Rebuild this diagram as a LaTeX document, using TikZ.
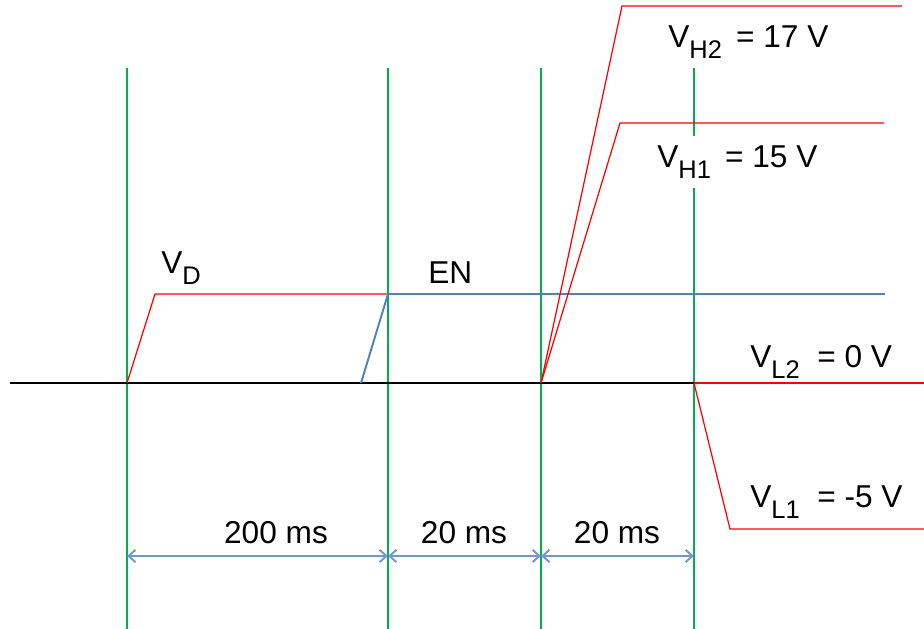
\documentclass[tikz,border=0pt]{standalone}
\usepackage{fontspec}
\setmainfont{Liberation Sans}
\usetikzlibrary{arrows.meta}
\definecolor{markgreen}{HTML}{00B050}
\definecolor{sigred}{HTML}{FF0000}
\definecolor{sigblue}{HTML}{4F81BD}
\definecolor{dimblue}{HTML}{7396CE}
\newcommand{\lowidx}[1]{\raisebox{-6.8pt}{\fontsize{14.5}{16}\selectfont #1}}

\begin{document}
\begin{tikzpicture}[x=0.02cm, y=-0.02cm, font=\fontsize{18}{21}\selectfont,
    markline/.style={markgreen, line width=1.6pt},
    redsig/.style={sigred, line width=0.7pt},
    lbl/.style={anchor=base west, inner sep=0pt},
    dimarrow/.style={dimblue, line width=1.1pt,
      {Straight Barb[length=4pt, width=7pt]}-{Straight Barb[length=4pt, width=7pt]}}]
    \useasboundingbox (0,0) rectangle (924,629);
    % time markers
    \foreach \name/\x in {t0/127, t1/388, t2/541, t3/694} {
      \coordinate (\name top) at (\x,68);
      \coordinate (\name bot) at (\x,629);
      \coordinate (\name dim) at (\x,556);
      \coordinate (\name base) at (\x,383);
    }
    \foreach \name in {t0,t1,t2,t3} \draw[markline] (\name top) -- (\name bot);
    % ground line
    \draw[black, line width=1.5pt] (10,383) -- (767,383);
    % VD and EN
    \draw[redsig] (t0base) -- (155,294) -- (t1base |- 0,294);
    \draw[sigblue, line width=1.1pt] (361,383) -- (388,294) -- (885,294);
    % high levels
    \draw[redsig] (t2base) -- (622,6) -- (902,6);
    \draw[redsig] (t2base) -- (620,123) -- (884,123);
    % low levels
    \draw[redsig] (t3base) -- (924,383);
    \draw[redsig] (t3base) -- (730,529) -- (924,529);
    % labels
    \node[lbl] (vd) at (161,273) {V\lowidx{D}};
    \node[lbl] (en) at (428,283) {EN};
    \node[lbl] (vh2) at (668,47) {V\lowidx{H2}\hspace{3pt} = 17 V};
    \node[lbl, fill=white, inner ysep=5pt, inner xsep=0pt] (vh1) at (657,167) {V\lowidx{H1}\hspace{3pt} = 15 V};
    \node[lbl] (vl2) at (750,367) {V\lowidx{L2}\ \ = 0 V};
    \node[lbl] (vl1) at (750,507) {V\lowidx{L1}\ \ = -5 V};
    % durations
    \draw[dimarrow] (t0dim) -- (t1dim);
    \draw[dimarrow] (t1dim) -- (t2dim);
    \draw[dimarrow] (t2dim) -- (t3dim);
    \node[anchor=base, inner sep=0pt] (d0) at (276,543) {200 ms};
    \node[anchor=base, inner sep=0pt] (d1) at (464,543) {20 ms};
    \node[anchor=base, inner sep=0pt] (d2) at (617,543) {20 ms};
\end{tikzpicture}
\end{document}
